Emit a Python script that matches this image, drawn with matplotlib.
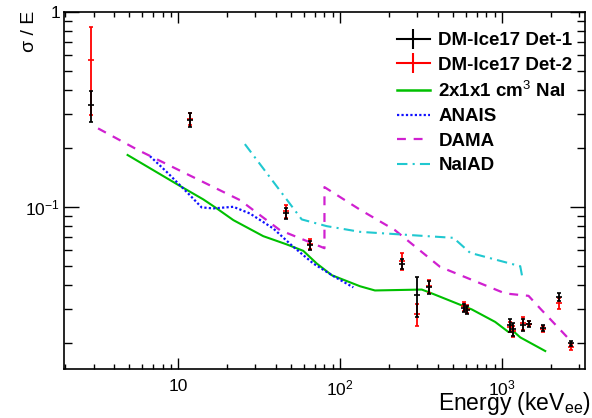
import numpy as np
import matplotlib
matplotlib.use('Agg')
import matplotlib.pyplot as plt
from matplotlib.lines import Line2D
from matplotlib.ticker import LogLocator, FuncFormatter, NullFormatter

plt.rcParams['font.family'] = ['Liberation Sans', 'DejaVu Sans']
plt.rcParams['mathtext.fontset'] = 'custom'
plt.rcParams['mathtext.rm'] = 'Liberation Sans'
plt.rcParams['mathtext.it'] = 'Liberation Sans'
plt.rcParams['mathtext.bf'] = 'Liberation Sans:bold'

# DM-Ice17 detector peaks (energy in keV)
energy = [2.9, 11.8, 46.3, 65.5, 241, 300, 354, 585, 610, 1120, 1170, 1340, 1470, 1780, 2250, 2650]
det1 = [0.334, 0.280, 0.093, 0.0638, 0.0512, 0.0354, 0.0388, 0.0305, 0.0298, 0.0248, 0.0237, 0.0250, 0.0252, 0.0240, 0.0347, 0.0201]
det1_err = [0.06, 0.024, 0.006, 0.0035, 0.0033, 0.0082, 0.003, 0.0015, 0.0015, 0.0018, 0.0018, 0.0018, 0.0008, 0.0008, 0.0015, 0.0006]
det2 = [0.565, 0.283, 0.095, 0.065, 0.053, 0.0282, 0.0395, 0.031, 0.0300, 0.0243, 0.0232, 0.0255, 0.0253, 0.0238, 0.0322, 0.0192]
det2_err = [0.27, 0.02, 0.007, 0.004, 0.0052, 0.0035, 0.003, 0.0015, 0.0015, 0.0015, 0.0015, 0.002, 0.0008, 0.0008, 0.002, 0.0007]

# 2x1x1 cm3 NaI
small_e = [4.87, 10, 14.3, 17.3, 21.9, 33.5, 46.8, 59.2, 71.7, 88.7, 132.7, 164, 319, 351, 650, 906, 1095, 1175, 1294, 1846]
small_r = [0.185, 0.130, 0.1095, 0.0985, 0.0858, 0.0710, 0.0644, 0.0597, 0.0514, 0.0448, 0.0393, 0.0374, 0.0378, 0.0367, 0.0299, 0.0258, 0.0229, 0.0231, 0.0215, 0.0183]

# ANAIS
anais_e = [6.69, 8.48, 10.24, 11.8, 13.95, 16.45, 21.9, 27.7, 38.6, 51.4, 68.3, 90.8, 120.6]
anais_r = [0.1826, 0.1517, 0.1297, 0.1152, 0.0997, 0.0985, 0.1004, 0.0928, 0.0778, 0.0626, 0.0514, 0.0443, 0.0388]

# DAMA
dama_e = [3.2, 5.66, 24.1, 42.5, 80.0, 80.0, 131.9, 218, 414, 1045, 1456, 1720, 2570]
dama_r = [0.2533, 0.196, 0.1086, 0.0762, 0.0616, 0.1266, 0.0973, 0.0762, 0.0494, 0.0361, 0.0351, 0.0302, 0.0212]

# NaIAD
naiad_e = [25.8, 57.9, 82.6, 132.7, 500.7, 635, 1294, 1337]
naiad_r = [0.2104, 0.0865, 0.0799, 0.0747, 0.0696, 0.0583, 0.0498, 0.0431]

fig = plt.figure(figsize=(5.92, 4.18), dpi=100)
ax = fig.add_axes([0.1086, 0.1172, 0.8796, 0.854])

ax.plot(small_e, small_r, color='#00c000', lw=1.5, zorder=2)
ax.plot(anais_e, anais_r, color='#1010ff', lw=1.6, linestyle=(0, (1, 1)), zorder=2)
ax.plot(dama_e, dama_r, color='#d020d0', lw=1.6, linestyle=(0, (4, 3.5)), zorder=2)
ax.plot(naiad_e, naiad_r, color='#20c8d0', lw=1.5, linestyle=(0, (5, 2.5, 1, 2.5)), zorder=2)

ax.errorbar(energy, det2, yerr=det2_err, fmt='_', color='red', ms=4, mew=1.2,
            elinewidth=1.3, capsize=1.7, capthick=1.2, zorder=3)
ax.errorbar(energy, det1, yerr=det1_err, fmt='_', color='black', ms=4, mew=1.2,
            elinewidth=1.3, capsize=1.5, capthick=1.2, zorder=4)

ax.set_xscale('log')
ax.set_yscale('log')
ax.set_xlim(1.98, 3250)
ax.set_ylim(0.0148, 1)


def dec_fmt(v, pos):
    p = int(round(np.log10(v)))
    if p == 0:
        return '1'
    if p == 1:
        return '10'
    return '$10^{%d}$' % p


for axis in (ax.xaxis, ax.yaxis):
    axis.set_major_locator(LogLocator(base=10))
    axis.set_minor_locator(LogLocator(base=10, subs=np.arange(2, 10)))
    axis.set_major_formatter(FuncFormatter(dec_fmt))
    axis.set_minor_formatter(NullFormatter())

ax.tick_params(which='both', direction='in', top=True, right=True, labelsize=12.5, width=1)
ax.tick_params(axis='x', which='major', length=7.7, pad=7)
ax.tick_params(axis='x', which='minor', length=3.8)
ax.tick_params(axis='y', which='major', length=11, pad=3)
ax.tick_params(axis='y', which='minor', length=5.8)
for s in ax.spines.values():
    s.set_linewidth(1.2)

fig.text(0.05, 0.975, 'σ / E', rotation=90, ha='center', va='top', fontsize=14)
fig.text(0.997, 1 - 410 / 418, 'Energy (keV$_{ee}$)', ha='right', va='baseline', fontsize=16.5)

handles = [
    Line2D([], [], color='black', lw=1.5, marker='|', ms=15, mew=1.5),
    Line2D([], [], color='red', lw=1.5, marker='|', ms=15, mew=1.5),
    Line2D([], [], color='#00c000', lw=1.8),
    Line2D([], [], color='#1010ff', lw=1.6, linestyle=(0, (1, 1))),
    Line2D([], [], color='#d020d0', lw=1.6, linestyle=(0, (4, 3.5))),
    Line2D([], [], color='#20c8d0', lw=1.5, linestyle=(0, (5, 2.5, 1, 2.5))),
]
labels = ['DM-Ice17 Det-1', 'DM-Ice17 Det-2', '2x1x1 cm$^{3}$ NaI', 'ANAIS', 'DAMA', 'NaIAD']
ax.legend(handles, labels, loc='upper left', bbox_to_anchor=(397 / 592, 1 - 32 / 418),
          bbox_transform=fig.transFigure, frameon=False, borderpad=0, borderaxespad=0,
          prop={'weight': 'bold', 'size': 13.5}, handlelength=1.75, handletextpad=0.45,
          labelspacing=0.39)

fig.savefig('out.png', dpi=100)
